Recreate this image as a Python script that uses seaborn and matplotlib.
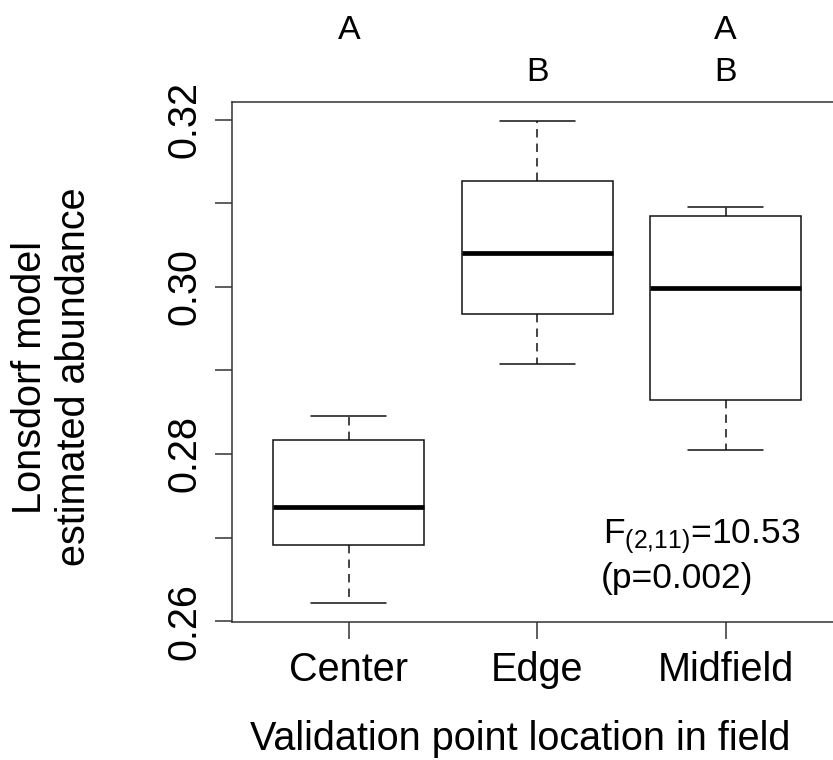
import matplotlib
matplotlib.use("Agg")
import matplotlib.pyplot as plt
import matplotlib.transforms as mtransforms
import seaborn as sns
import pandas as pd
import numpy as np

# ---- data (five-number summaries) ----
categories = ["Center", "Edge", "Midfield"]
center_vals = [0.2622, 0.2691, 0.2736, 0.2817, 0.2845]
edge_vals = [0.2908, 0.2967, 0.3040, 0.3126, 0.3198]
midfield_vals = [0.2805, 0.2864, 0.2998, 0.3085, 0.3095]
group_letters_top = ["A", "", "A"]
group_letters_bottom = ["", "B", "B"]
y_ticks = [0.26, 0.27, 0.28, 0.29, 0.30, 0.31, 0.32]
y_tick_labels = ["0.26", "", "0.28", "", "0.30", "", "0.32"]
stat_line1 = r"F$_{\mathregular{(2{,}11)}}$=10.53"
stat_line2 = "(p=0.002)"
x_label = "Validation point location in field"
y_label = "Lonsdorf model\nestimated abundance"

df = pd.DataFrame({
    "location": np.repeat(categories, 5),
    "value": center_vals + edge_vals + midfield_vals,
})

sns.set_style("white")
plt.rcParams["font.family"] = ["Liberation Sans", "DejaVu Sans"]
plt.rcParams["mathtext.fontset"] = "custom"
plt.rcParams["mathtext.rm"] = "Liberation Sans"
plt.rcParams["mathtext.it"] = "Liberation Sans"
plt.rcParams["mathtext.bf"] = "Liberation Sans:bold"
plt.rcParams["text.color"] = "black"
plt.rcParams["axes.labelcolor"] = "black"

W, H = 833, 760
fig = plt.figure(figsize=(W / 100, H / 100), dpi=100)
ax_left, ax_top, ax_bottom = 232, 102, 622
ax = fig.add_axes([ax_left / W, 1 - ax_bottom / H, (W - ax_left) / W, (ax_bottom - ax_top) / H])

line_col = "#111111"
sns.boxplot(
    data=df, x="location", y="value", order=categories, ax=ax,
    width=0.8, color="white", linecolor=line_col, linewidth=1.0,
    whis=1.5, showfliers=False,
    boxprops=dict(facecolor="white", edgecolor=line_col, linewidth=1.1),
    medianprops=dict(color="black", linewidth=3.4, solid_capstyle="butt"),
    whiskerprops=dict(color=line_col, linewidth=1.1, linestyle=(0, (5.5, 4))),
    capprops=dict(color=line_col, linewidth=1.1),
)

ax.set_xlim(-0.62, 2.57)
ax.set_ylim(0.2599, 0.3221)
ax.set_yticks(y_ticks)
ax.set_yticklabels(y_tick_labels)
ax.set_xticks(range(len(categories)))
ax.set_xticklabels(categories)
ax.set_xlabel("")
ax.set_ylabel("")

for s in ["left", "top", "bottom"]:
    ax.spines[s].set_visible(True)
    ax.spines[s].set_color("#333333")
    ax.spines[s].set_linewidth(1.1)
ax.spines["right"].set_visible(False)

ax.tick_params(axis="both", which="major", direction="out", length=12.2,
               width=1.1, color="#333333", labelsize=28.5, labelcolor="black",
               bottom=True, left=True, top=False, right=False)
ax.tick_params(axis="y", labelrotation=90, pad=8)
for lab in ax.get_yticklabels():
    lab.set_va("center")
ax.tick_params(axis="x", pad=9)

# axis titles
fig.text(52 / W, 1 - 377 / H, y_label, rotation=90, ha="center", va="center",
         multialignment="center", fontsize=28.5, linespacing=1.2, color="black")
fig.text(520 / W, 1 - 750 / H, x_label, ha="center", va="baseline", fontsize=28.5,
         color="black")

# group letters above the plot
trans = mtransforms.blended_transform_factory(ax.transData, fig.transFigure)
for i, (a, b) in enumerate(zip(group_letters_top, group_letters_bottom)):
    if a:
        ax.text(i, 1 - 39 / H, a, transform=trans, ha="center", va="baseline",
                fontsize=24.5, clip_on=False, color="black")
    if b:
        ax.text(i, 1 - 81 / H, b, transform=trans, ha="center", va="baseline",
                fontsize=24.5, clip_on=False, color="black")

# statistic annotation
fig.text(603 / W, 1 - 543 / H, stat_line1, ha="left", va="baseline", fontsize=25.5,
         color="black")
fig.text(601 / W, 1 - 588 / H, stat_line2, ha="left", va="baseline", fontsize=25.5,
         color="black")

fig.savefig("out.png", dpi=100)
